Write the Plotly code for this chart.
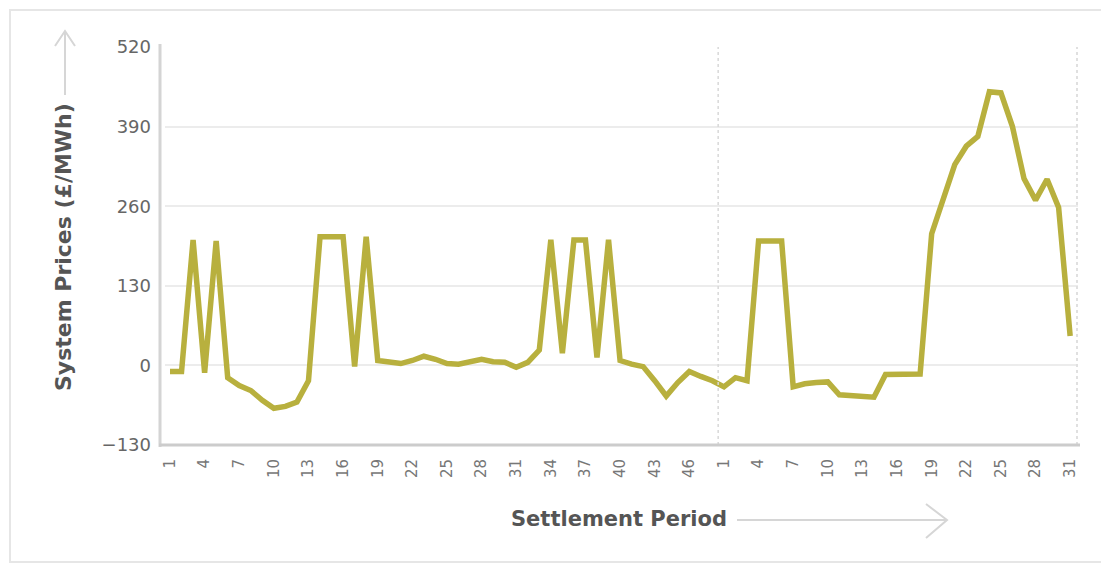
import plotly.graph_objects as go

# ---- data ----
day1_periods = list(range(1, 49))
day2_periods = list(range(1, 32))
prices_day1 = [-10, -10, 205, -12, 203, -20, -33, -41, -57, -70, -67, -60,
               -25, 210, 210, 210, -2, 210, 8, 5, 3, 8, 15, 10,
               3, 2, 5, 10, 6, 5, -3, 5, 25, 205, 20, 205,
               205, 13, 205, 8, 2, -2, -25, -50, -28, -10, -18, -25]
prices_day2 = [-35, -20, -25, 203, 203, 203, -35, -30, -28, -27, -48, -50,
               -50, -52, -15, -15, -15, -14, 215, 272, 328, 358, 374, 447,
               445, 390, 305, 270, 304, 258, 48]
y_ticks = [-130, 0, 130, 260, 390, 520]
y_title = "System Prices (£/MWh)"
x_title = "Settlement Period"

periods = day1_periods + day2_periods
prices = prices_day1 + prices_day2
x_idx = list(range(len(periods)))
tick_idx = [i for i in x_idx if (periods[i] - 1) % 3 == 0]
tick_txt = [str(periods[i]) for i in tick_idx]

OFF = 8  # page body margin
W, H = 1109 - OFF, 565 - OFF
PLOT_L, PLOT_R, PLOT_T, PLOT_B = 165, 1078, 47, 445  # in window pixels
L, T = PLOT_L - OFF, PLOT_T - OFF
R, B = W - (PLOT_R - OFF), H - (PLOT_B - OFF)
PW, PH = PLOT_R - PLOT_L, PLOT_B - PLOT_T


def px(x):
    return (x - PLOT_L) / PW


def py(y):
    return (PLOT_B - y) / PH


fig = go.Figure()
fig.add_trace(go.Scatter(
    x=x_idx, y=prices, mode="lines",
    line=dict(color="#b8b03e", width=5.5),
    hoverinfo="skip", showlegend=False,
))

grid_col = "#ececec"
shapes = []
shapes.append(dict(type="line", xref="x", yref="paper",
                   x0=len(day1_periods) - 0.5, x1=len(day1_periods) - 0.5,
                   y0=0, y1=1, line=dict(color="#d8d8d8", width=1.5, dash="dot")))
shapes.append(dict(type="line", xref="paper", yref="paper",
                   x0=px(1077), x1=px(1077), y0=0, y1=1,
                   line=dict(color="#e0e0e0", width=2, dash="dot")))
shapes.append(dict(type="line", xref="paper", yref="paper",
                   x0=px(160), x1=px(160), y0=py(447), y1=py(44),
                   line=dict(color="#d4d4d4", width=3)))
shapes.append(dict(type="line", xref="paper", yref="paper",
                   x0=px(159), x1=px(1080), y0=py(445), y1=py(445),
                   line=dict(color="#cccccc", width=3)))
arrow_col = "#d6d6d6"
shapes.append(dict(type="line", xref="paper", yref="paper",
                   x0=px(65), x1=px(65), y0=py(95), y1=py(31),
                   line=dict(color=arrow_col, width=2)))
shapes.append(dict(type="path", xref="paper", yref="paper",
                   path=f"M {px(55)},{py(46)} L {px(65)},{py(31)} L {px(75)},{py(46)}",
                   line=dict(color=arrow_col, width=2)))
shapes.append(dict(type="line", xref="paper", yref="paper",
                   x0=px(737), x1=px(946), y0=py(520), y1=py(520),
                   line=dict(color=arrow_col, width=2)))
shapes.append(dict(type="path", xref="paper", yref="paper",
                   path=f"M {px(926)},{py(504)} L {px(947)},{py(520)} L {px(926)},{py(538)}",
                   line=dict(color=arrow_col, width=2)))
shapes.append(dict(type="rect", xref="paper", yref="paper",
                   x0=px(10), x1=px(1103), y0=py(562), y1=py(10),
                   line=dict(color="#e6e6e6", width=2)))

annotations = [
    dict(text=f"<b>{y_title}</b>", xref="paper", yref="paper",
         x=px(64), y=py(247), textangle=-90, showarrow=False,
         xanchor="center", yanchor="middle",
         font=dict(family="DejaVu Sans", size=22, color="#555555")),
    dict(text=f"<b>{x_title}</b>", xref="paper", yref="paper",
         x=px(619), y=py(519), showarrow=False,
         xanchor="center", yanchor="middle",
         font=dict(family="DejaVu Sans", size=21, color="#555555")),
]

fig.update_layout(
    width=W, height=H,
    margin=dict(l=L, r=R, t=T, b=B),
    paper_bgcolor="white", plot_bgcolor="white",
    shapes=shapes, annotations=annotations,
    xaxis=dict(
        range=[-0.433, 78.68], tickvals=tick_idx, ticktext=tick_txt,
        tickangle=-90, showgrid=False, zeroline=False, showline=False,
        ticks="", ticklabelstandoff=10,
        tickfont=dict(family="DejaVu Sans", size=15, color="#777777"),
    ),
    yaxis=dict(
        range=[-130, 520], tickvals=y_ticks,
        showgrid=True, gridcolor=grid_col, gridwidth=1.5,
        zeroline=False, showline=False, ticks="", ticklabelstandoff=13,
        tickfont=dict(family="DejaVu Sans", size=18, color="#666666"),
    ),
)

fig.write_html("out.html")
